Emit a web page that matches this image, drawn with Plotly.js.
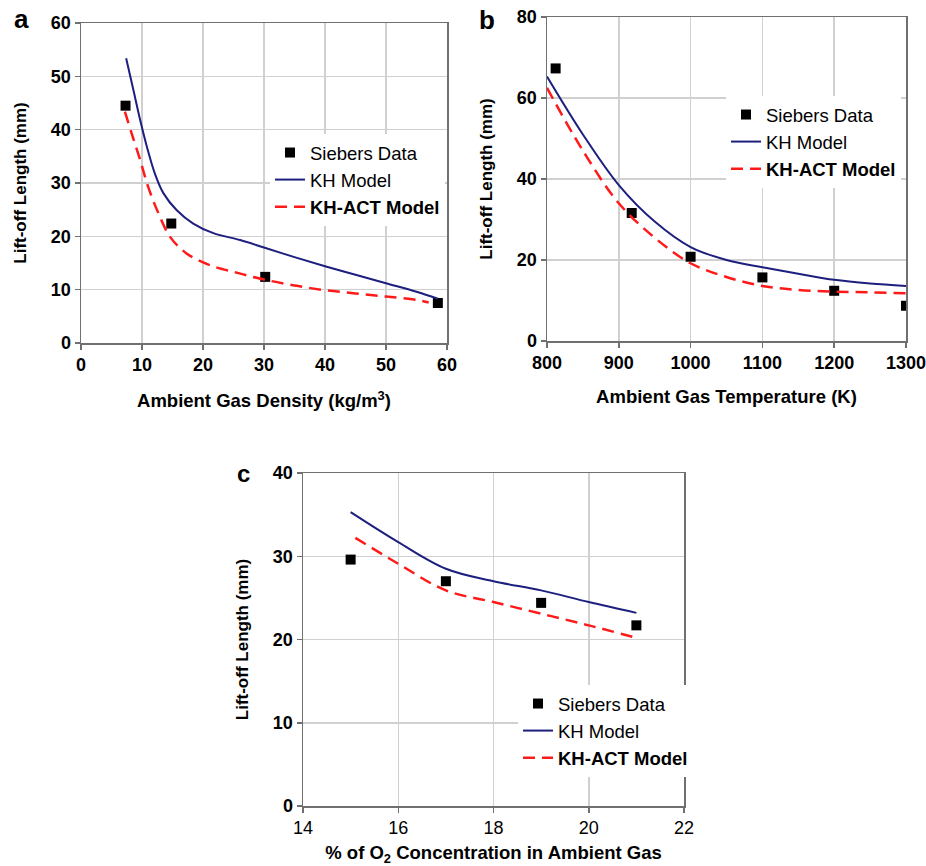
<!DOCTYPE html>
<html>
<head>
<meta charset="utf-8">
<script src="https://cdn.plot.ly/plotly-3.0.1.min.js"></script>
<style>html,body{margin:0;padding:0;background:#fff;}#chart{width:926px;height:866px;}</style>
</head>
<body>
<div id="chart"></div>
<script>
// Panel a: ambient gas density
const densSiebersX = [7.3, 14.8, 30.2, 58.5];
const densSiebersY = [44.5, 22.4, 12.4, 7.5];
const densKHX = [7.4, 8.6, 9.7, 10.8, 12.1, 13.5, 15.7, 18.4, 21.7, 26.1, 30, 35, 40, 45, 50, 55, 58.5];
const densKHY = [53.4, 47.4, 41.8, 36.8, 31.8, 28.1, 24.9, 22.4, 20.6, 19.3, 17.9, 16.1, 14.4, 12.8, 11.2, 9.6, 8.3];
const densACTX = [7.2, 8.3, 9.7, 11.0, 12.7, 14.6, 17.3, 21.1, 25.5, 30, 35, 40, 45, 50, 55, 57];
const densACTY = [43.4, 39.3, 34.3, 29.3, 24.3, 19.9, 16.8, 14.6, 13.2, 11.9, 10.8, 9.9, 9.3, 8.7, 8.1, 7.6];

// Panel b: ambient gas temperature
const tempSiebersX = [812, 918, 1000, 1100, 1200, 1300];
const tempSiebersY = [67.3, 31.6, 20.8, 15.7, 12.4, 8.7];
const tempKHX = [800, 850, 900, 950, 1000, 1050, 1100, 1150, 1200, 1250, 1300];
const tempKHY = [65.3, 51, 38.5, 29.5, 23.2, 20.0, 18.2, 16.6, 15.1, 14.2, 13.6];
const tempACTX = [800, 850, 900, 950, 1000, 1050, 1100, 1150, 1200, 1250, 1300];
const tempACTY = [62.5, 47, 34, 25.5, 19.2, 15.8, 13.6, 12.6, 12.2, 12.0, 11.8];

// Panel c: O2 concentration
const oxySiebersX = [15, 17, 19, 21];
const oxySiebersY = [29.6, 27.0, 24.4, 21.7];
const oxyKHX = [15, 16, 17, 18, 19, 20, 21];
const oxyKHY = [35.3, 31.7, 28.5, 27.0, 25.9, 24.5, 23.2];
const oxyACTX = [15.1, 16, 17, 18, 19, 20, 21];
const oxyACTY = [32.2, 29.1, 25.9, 24.5, 23.1, 21.7, 20.2];

const names = ['Siebers Data', 'KH Model', '<b>KH-ACT Model</b>'];
const panelLabels = ['a', 'b', 'c'];
const navy = '#1c1f7e';
const red = '#ff1a1a';

function triple(sx, sy, kx, ky, ax, ay, xa, ya, lg) {
  return [
    {x: sx, y: sy, xaxis: xa, yaxis: ya, legend: lg, name: names[0], mode: 'markers', type: 'scatter',
     marker: {symbol: 'square', size: 10, color: '#000'}},
    {x: kx, y: ky, xaxis: xa, yaxis: ya, legend: lg, name: names[1], mode: 'lines', type: 'scatter',
     line: {color: navy, width: 2, shape: 'spline'}},
    {x: ax, y: ay, xaxis: xa, yaxis: ya, legend: lg, name: names[2], mode: 'lines', type: 'scatter',
     line: {color: red, width: 2.5, shape: 'spline', dash: '12px,7px'}}
  ];
}

const data = [
  ...triple(densSiebersX, densSiebersY, densKHX, densKHY, densACTX, densACTY, 'x', 'y', 'legend'),
  ...triple(tempSiebersX, tempSiebersY, tempKHX, tempKHY, tempACTX, tempACTY, 'x2', 'y2', 'legend2'),
  ...triple(oxySiebersX, oxySiebersY, oxyKHX, oxyKHY, oxyACTX, oxyACTY, 'x3', 'y3', 'legend3')
];

const W = 926, H = 866;
const px = v => v / W;
const py = v => 1 - v / H;
const FAM = 'Liberation Sans, Arial, sans-serif';

const tickBold = {family: FAM, size: 18, color: '#000', weight: 'bold'};
const tickReg = {family: FAM, size: 18, color: '#000'};
const xTitleFont = {family: FAM, size: 18.5, color: '#000', weight: 'bold'};
const yTitleFont = {family: FAM, size: 17, color: '#000', weight: 'bold'};

function axis(dom, range, dtick, title, tf, titleF, standoff, anchor) {
  return {
    domain: dom, range: range, dtick: dtick, tick0: range[0], anchor: anchor,
    showgrid: true, gridcolor: '#d0d0d0', gridwidth: 1.5,
    showline: true, linecolor: '#707070', linewidth: 1.5, mirror: true,
    ticks: 'outside', ticklen: 5, tickcolor: '#707070', tickwidth: 1.5,
    tickfont: tf, zeroline: false, fixedrange: true, ticklabeloverflow: 'allow',
    title: {text: title, font: titleF, standoff: standoff}
  };
}

const legendBase = {
  bgcolor: '#ffffff', borderwidth: 0, xanchor: 'left', yanchor: 'top',
  font: {family: FAM, size: 18.5, color: '#000'},
  tracegroupgap: 0, itemwidth: 30
};

function label(i, x, y, size) {
  return {text: '<b>' + panelLabels[i] + '</b>', x: px(x), y: py(y), xref: 'paper', yref: 'paper',
    xanchor: 'center', yanchor: 'middle', showarrow: false,
    font: {family: FAM, size: size, color: '#000'}};
}

const layout = {
  width: W, height: H,
  margin: {l: 0, r: 0, t: 0, b: 0},
  paper_bgcolor: '#fff', plot_bgcolor: '#fff',
  font: {family: FAM},
  xaxis: axis([px(81), px(447)], [0, 60], 10, 'Ambient Gas Density (kg/m<sup>3</sup>)', tickBold, xTitleFont, 20, 'y'),
  yaxis: axis([py(343), py(23)], [0, 60], 10, 'Lift-off Length (mm)', tickBold, yTitleFont, 20, 'x'),
  xaxis2: axis([px(547), px(906)], [800, 1300], 100, 'Ambient Gas Temperature (K)', tickBold, xTitleFont, 18, 'y2'),
  yaxis2: axis([py(341), py(17)], [0, 80], 20, 'Lift-off Length (mm)', tickBold, yTitleFont, 20, 'x2'),
  xaxis3: axis([px(303), px(684)], [14, 22], 2, '% of O<sub>2</sub> Concentration in Ambient Gas', tickReg, xTitleFont, 10, 'y3'),
  yaxis3: axis([py(806), py(473)], [0, 40], 10, 'Lift-off Length (mm)', tickBold, yTitleFont, 20, 'x3'),
  showlegend: true,
  legend: Object.assign({}, legendBase, {x: px(270), y: py(134)}),
  legend2: Object.assign({}, legendBase, {x: px(726), y: py(96)}),
  legend3: Object.assign({}, legendBase, {x: px(518), y: py(685)}),
  annotations: [
    label(0, 21, 19, 26),
    label(1, 487, 20, 26),
    label(2, 243, 473, 24)
  ]
};

Plotly.newPlot('chart', data, layout, {displayModeBar: false, staticPlot: true});
</script>
</body>
</html>
